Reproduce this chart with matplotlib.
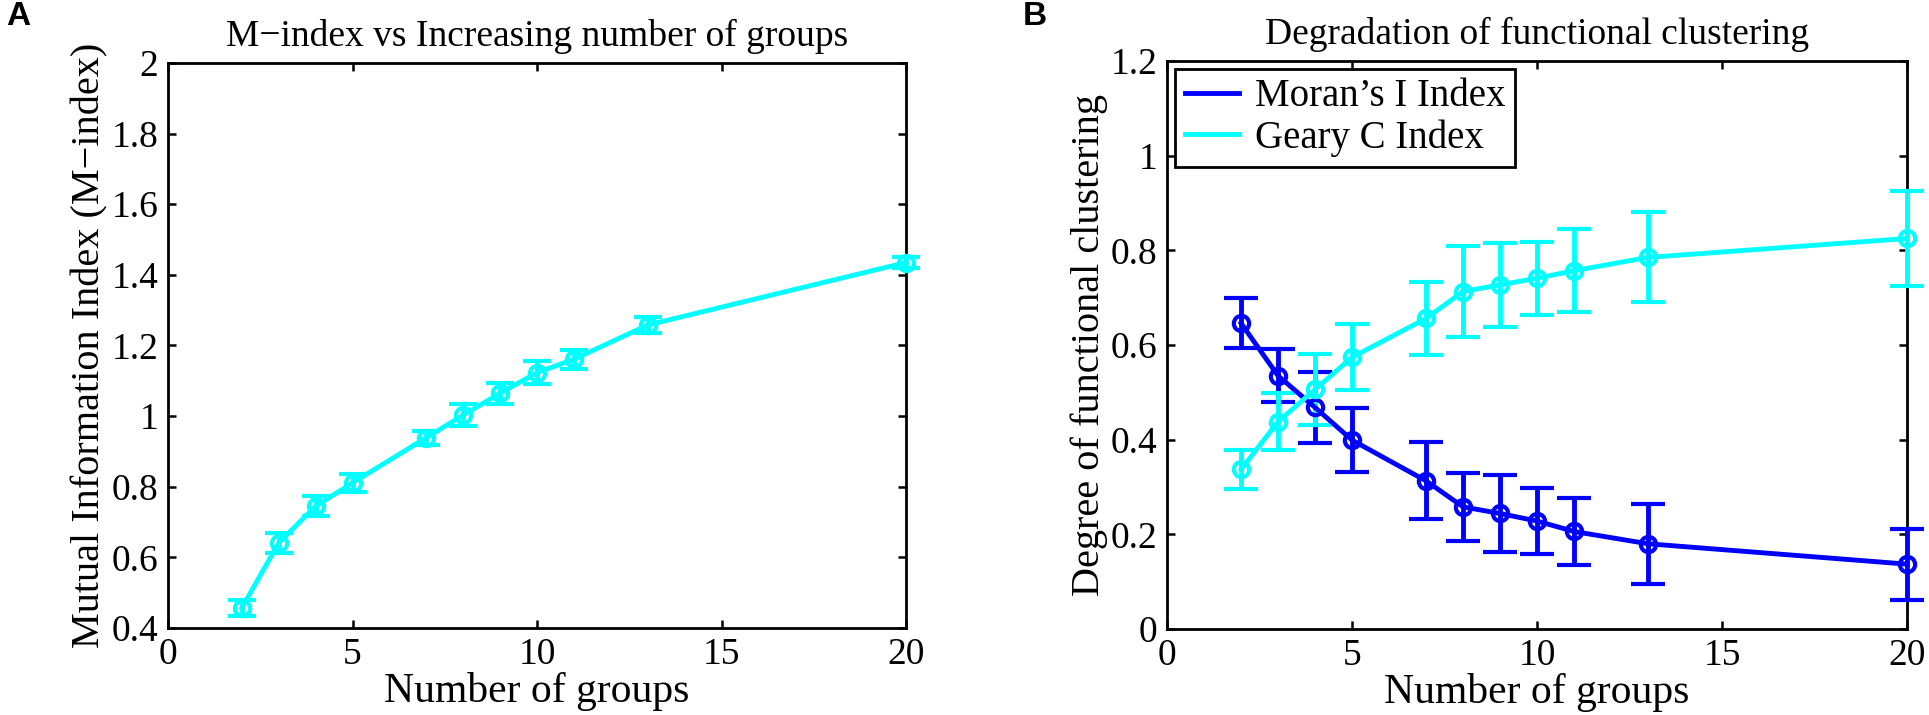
import matplotlib
matplotlib.use("Agg")
import matplotlib.pyplot as plt
from matplotlib.lines import Line2D
from matplotlib.ticker import FormatStrFormatter

plt.rcParams["font.family"] = ["Liberation Serif", "DejaVu Serif"]

# panel A data
groups = [2, 3, 4, 5, 7, 8, 9, 10, 11, 13, 20]
m_index = [0.457, 0.641, 0.745, 0.811, 0.939, 1.003, 1.065, 1.123, 1.161, 1.258, 1.435]
m_index_err = [0.022, 0.028, 0.028, 0.026, 0.020, 0.030, 0.030, 0.033, 0.027, 0.024, 0.015]

# panel B data
moran = [0.646, 0.535, 0.468, 0.399, 0.313, 0.258, 0.244, 0.228, 0.206, 0.180, 0.137]
moran_err = [0.053, 0.056, 0.075, 0.068, 0.081, 0.072, 0.082, 0.070, 0.071, 0.085, 0.075]
geary = [0.337, 0.438, 0.506, 0.574, 0.656, 0.713, 0.727, 0.741, 0.757, 0.785, 0.825]
geary_err = [0.041, 0.060, 0.074, 0.070, 0.077, 0.097, 0.088, 0.077, 0.088, 0.095, 0.100]

tick_fs = 27
label_fs = 30
title_fs = 27
legend_fs = 28
cyan = (0, 1, 1)
blue = (0, 0, 1)

fig = plt.figure(figsize=(19.29, 7.15), dpi=100)
axA = fig.add_axes([0.0871, 0.1217, 0.3826, 0.7902])
axB = fig.add_axes([0.6050, 0.1203, 0.3836, 0.7944])


def style(ax):
    for s in ax.spines.values():
        s.set_linewidth(2)
    ax.tick_params(direction="in", top=True, right=True, length=6, width=1.8,
                   labelsize=tick_fs, pad=7)
    ax.set_xlim(0, 20)
    ax.set_xticks([0, 5, 10, 15, 20])
    ax.yaxis.set_major_formatter(FormatStrFormatter("%g"))
    ax.set_xlabel("Number of groups", fontsize=label_fs, labelpad=0)


axA.errorbar(groups, m_index, yerr=m_index_err, fmt="-o", color=cyan, lw=3.5,
             elinewidth=3.5, capsize=10, capthick=5, ms=11, mfc="none", mew=3,
             clip_on=False, zorder=3)
style(axA)
axA.set_ylim(0.4, 2)
axA.set_yticks([0.4, 0.6, 0.8, 1.0, 1.2, 1.4, 1.6, 1.8, 2.0])
axA.set_ylabel("Mutual Information Index (M\u2212index)", fontsize=label_fs - 1, labelpad=2)
axA.set_title("M\u2212index vs Increasing number of groups", fontsize=title_fs, pad=12)

axB.errorbar(groups, moran, yerr=moran_err, fmt="-o", color=blue, lw=3.5,
             elinewidth=3.5, capsize=12, capthick=4, ms=11, mfc="none", mew=3,
             clip_on=False, zorder=3)
axB.errorbar(groups, geary, yerr=geary_err, fmt="-o", color=cyan, lw=3.5,
             elinewidth=3.5, capsize=12, capthick=4, ms=11, mfc="none", mew=3,
             clip_on=False, zorder=3)
style(axB)
axB.set_ylim(0, 1.2)
axB.set_yticks([0, 0.2, 0.4, 0.6, 0.8, 1.0, 1.2])
axB.set_ylabel("Degree of functional clustering", fontsize=label_fs - 1, labelpad=2)
axB.set_title("Degradation of functional clustering", fontsize=title_fs, pad=12)

handles = [Line2D([], [], color=blue, lw=3.5), Line2D([], [], color=cyan, lw=3.5)]
leg = axB.legend(handles, ["Moran\u2019s I Index", "Geary C Index"], loc="upper left",
                 fontsize=legend_fs, frameon=True, fancybox=False, edgecolor="black",
                 framealpha=1, borderaxespad=0.2, handlelength=1.4,
                 handletextpad=0.4, labelspacing=0.1, borderpad=0.25)
leg.get_frame().set_linewidth(2)

fig.text(0.003, 0.955, "A", fontsize=24, fontweight="bold",
         family=["Liberation Sans", "DejaVu Sans"], va="bottom")
fig.text(0.530, 0.955, "B", fontsize=24, fontweight="bold",
         family=["Liberation Sans", "DejaVu Sans"], va="bottom")

fig.savefig("out.png", dpi=100)
